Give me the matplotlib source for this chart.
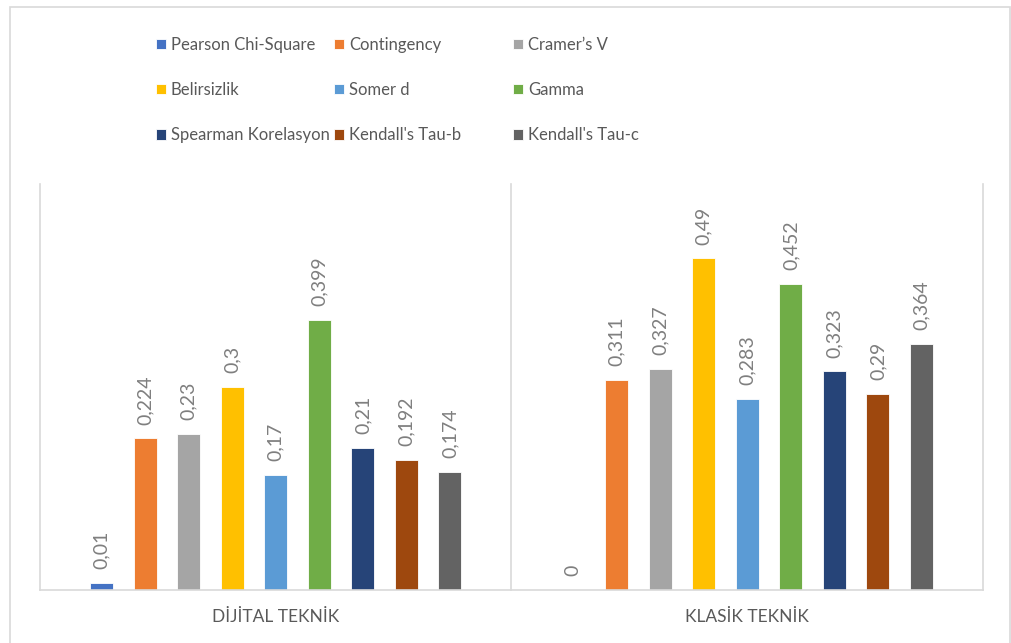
import matplotlib.pyplot as plt
from matplotlib.patches import Rectangle

categories = ['DİJİTAL TEKNİK', 'KLASİK TEKNİK']
series = ['Pearson Chi-Square', 'Contingency', 'Cramer’s V',
          'Belirsizlik', 'Somer d', 'Gamma',
          'Spearman Korelasyon', "Kendall's Tau-b", "Kendall's Tau-c"]
dijital = [0.01, 0.224, 0.23, 0.3, 0.17, 0.399, 0.21, 0.192, 0.174]
klasik = [0, 0.311, 0.327, 0.49, 0.283, 0.452, 0.323, 0.29, 0.364]
colors = ['#4472C4', '#ED7D31', '#A5A5A5', '#FFC000', '#5B9BD5',
          '#70AD47', '#264478', '#9E480E', '#636363']

plt.rcParams['font.family'] = ['Lato', 'DejaVu Sans']

fig = plt.figure(figsize=(10.12, 6.43), dpi=100)
ax = fig.add_axes([40 / 1012, 53 / 643, 943 / 1012, 406 / 643])

# outer chart frame
fig.patches.append(Rectangle((10 / 1012, -0.05), 1000 / 1012, 1.05 - 7 / 643,
                             transform=fig.transFigure, fill=False,
                             edgecolor='#d9d9d9', linewidth=1.2))

step = 0.0923
width = 0.049
handles = []
for i, name in enumerate(series):
    x = [c + (i - 4) * step for c in range(len(categories))]
    vals = [dijital[i], klasik[i]]
    b = ax.bar(x, vals, width=width, color=colors[i], edgecolor='white',
               linewidth=0.6, label=name)
    handles.append(b)
    for xx, v in zip(x, vals):
        txt = ('%g' % v).replace('.', ',')
        ax.annotate(txt, (xx, v), xytext=(0, 10), textcoords='offset points',
                    rotation=90, ha='center', va='bottom', fontsize=14,
                    color='#7f7f7f')

ax.set_xlim(-0.5, 1.5)
ax.set_ylim(0, 0.6)
ax.set_yticks([])
ax.set_xticks(range(len(categories)))
ax.set_xticklabels(categories, fontsize=12.5, color='#595959')
ax.tick_params(axis='x', length=0, pad=14)
for s in ['top', 'right', 'left']:
    ax.spines[s].set_visible(False)
ax.spines['bottom'].set_color('#d9d9d9')
ax.spines['bottom'].set_linewidth(1.2)
for xv in [-0.5, 0.5, 1.5]:
    ax.axvline(xv, color='#d9d9d9', linewidth=1.2, clip_on=False)

# three legend columns, row-wise order like the original
col_x = [156, 334, 513]
for c in range(3):
    idx = [c, c + 3, c + 6]
    leg = fig.legend([handles[k] for k in idx], [series[k] for k in idx],
                     loc='center left', bbox_to_anchor=(col_x[c] / 1012, 1 - 90 / 643),
                     frameon=False, fontsize=12, handlelength=0.6, handleheight=0.6,
                     handletextpad=0.3, labelspacing=1.75, borderpad=0,
                     borderaxespad=0)
    for t in leg.get_texts():
        t.set_color('#595959')

fig.savefig('out.png', dpi=100)
